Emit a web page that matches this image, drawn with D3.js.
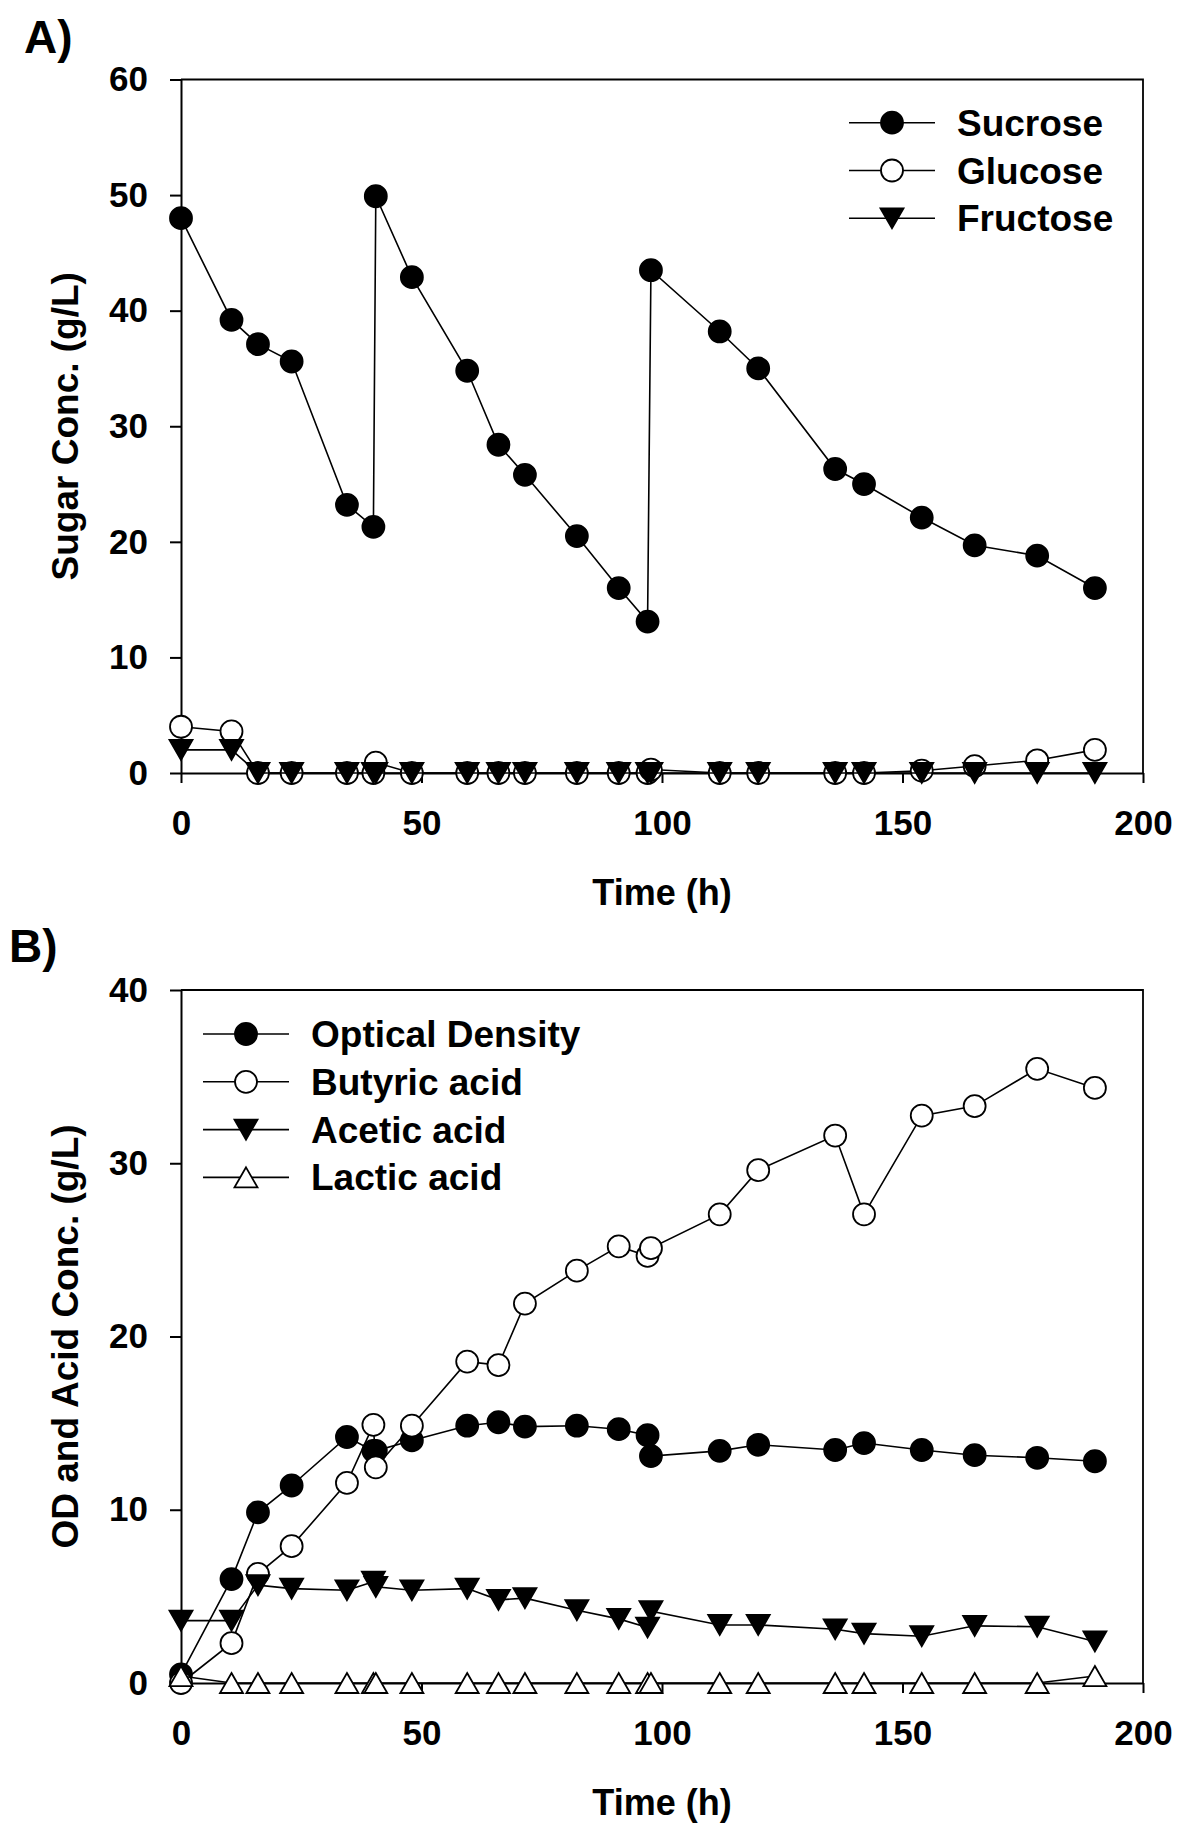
<!DOCTYPE html>
<html>
<head>
<meta charset="utf-8">
<script src="https://cdn.jsdelivr.net/npm/d3@7"></script>
<style>
  body { margin: 0; background: #fff; }
  svg text { font-family: "Liberation Sans", Arial, sans-serif; font-weight: bold; fill: #000; }
</style>
</head>
<body>
<div id="chart"></div>
<script>
// sampling times (h), shared by both panels (feeds at ~40 h and ~98 h)
var times = [0, 10.5, 16, 23, 34.5, 40, 40.5, 48, 59.5, 66, 71.5, 82.3, 91, 97, 97.7, 112, 120, 136, 142, 154, 165, 178, 190];

// panel A - sugars (g/L)
var sucrose  = [48.0, 39.2, 37.1, 35.6, 23.2, 21.3, 49.9, 42.9, 34.8, 28.4, 25.8, 20.5, 16.0, 13.1, 43.5, 38.2, 35.0, 26.3, 25.0, 22.1, 19.7, 18.8, 16.0];
var glucose  = [4.0, 3.6, 0, 0, 0, 0, 0.9, 0, 0, 0, 0, 0, 0, 0, 0.3, 0, 0, 0, 0, 0.2, 0.6, 1.1, 2.0];
var fructose = [2.0, 2.0, 0, 0, 0, 0, 0, 0, 0, 0, 0, 0, 0, 0, 0, 0, 0, 0, 0, 0, 0, 0, 0];

// panel B - OD and acids
var opticalDensity = [0.5, 6.0, 9.85, 11.4, 14.2, 13.4, 13.4, 14.0, 14.85, 15.05, 14.8, 14.85, 14.65, 14.3, 13.1, 13.4, 13.75, 13.45, 13.85, 13.45, 13.15, 13.0, 12.8];
var butyric = [0.0, 2.3, 6.3, 7.9, 11.55, 14.9, 12.45, 14.85, 18.55, 18.35, 21.9, 23.8, 25.2, 24.65, 25.1, 27.05, 29.6, 31.6, 27.05, 32.75, 33.3, 35.45, 34.35];
var acetic  = [3.6, 3.6, 5.65, 5.45, 5.35, 5.85, 5.55, 5.35, 5.45, 4.8, 4.9, 4.2, 3.7, 3.2, 4.15, 3.35, 3.35, 3.1, 2.85, 2.7, 3.3, 3.25, 2.4];
var lactic  = [0.4, 0, 0, 0, 0, 0, 0, 0, 0, 0, 0, 0, 0, 0, 0, 0, 0, 0, 0, 0, 0, 0, 0.4];

// ticks
var xTicks  = [0, 50, 100, 150, 200];
var yTicksA = [0, 10, 20, 30, 40, 50, 60];
var yTicksB = [0, 10, 20, 30, 40];

var svgWidth = 1200;
var svgHeight = 1831;
var fontFamily = '"Liberation Sans", Arial, sans-serif';

var svg = d3.select("#chart")
  .append("svg")
  .attr("width", svgWidth)
  .attr("height", svgHeight);

function symbolPath(kind) {
  if (kind === "circle") return d3.symbol().type(d3.symbolCircle).size(Math.PI * 11 * 11)();
  if (kind === "down") return "M-11.5,-10L11.5,-10L0,10Z";
  return "M0,-10L11.5,10L-11.5,10Z";
}

function drawPanel(p) {
  var x = d3.scaleLinear().domain([0, 200]).range([181, 1143]);
  var y = d3.scaleLinear().domain([0, p.yMax]).range([p.bottom, p.top]);
  var g = svg.append("g");

  // top and right frame lines
  g.append("path")
    .attr("d", `M${x(0)},${y(p.yMax)}H${x(200)}V${y(0)}`)
    .attr("fill", "none")
    .attr("stroke", "#000")
    .attr("stroke-width", 1.8);

  // axes
  var xAxis = g.append("g")
    .attr("transform", `translate(0, ${y(0)})`)
    .call(d3.axisBottom(x).tickValues(xTicks).tickSize(10).tickSizeOuter(0).tickPadding(27));
  var yAxis = g.append("g")
    .attr("transform", `translate(${x(0)}, 0)`)
    .call(d3.axisLeft(y).tickValues(p.yTicks).tickSize(11).tickSizeOuter(0).tickPadding(22));
  [xAxis, yAxis].forEach(function(a) {
    a.attr("font-size", 35).attr("font-family", fontFamily).attr("font-weight", "bold");
    a.selectAll("path, line").attr("stroke", "#000").attr("stroke-width", 2);
    a.selectAll("text").attr("fill", "#000");
  });

  // series: line then markers
  p.series.forEach(function(s) {
    var pts = times.map(function(t, i) { return [t, s.values[i]]; });
    g.append("path")
      .datum(pts)
      .attr("d", d3.line().x(d => x(d[0])).y(d => y(d[1])))
      .attr("fill", "none")
      .attr("stroke", "#000")
      .attr("stroke-width", 1.6);
    g.selectAll(null)
      .data(pts)
      .enter()
      .append("path")
      .attr("transform", d => `translate(${x(d[0])}, ${y(d[1])})`)
      .attr("d", symbolPath(s.shape))
      .attr("fill", s.filled ? "#000" : "#fff")
      .attr("stroke", "#000")
      .attr("stroke-width", 1.8);
  });

  // legend
  p.series.forEach(function(s, i) {
    var ly = p.legend.y + i * 47.8;
    g.append("line")
      .attr("x1", p.legend.x).attr("x2", p.legend.x + 86)
      .attr("y1", ly).attr("y2", ly)
      .attr("stroke", "#000").attr("stroke-width", 1.6);
    g.append("path")
      .attr("transform", `translate(${p.legend.x + 43}, ${ly})`)
      .attr("d", symbolPath(s.shape))
      .attr("fill", s.filled ? "#000" : "#fff")
      .attr("stroke", "#000")
      .attr("stroke-width", 1.8);
    g.append("text")
      .attr("x", p.legend.x + 108)
      .attr("y", ly + 13)
      .attr("font-size", 37)
      .text(s.name);
  });

  // axis titles
  g.append("text")
    .attr("x", (x(0) + x(200)) / 2)
    .attr("y", y(0) + 132)
    .attr("text-anchor", "middle")
    .attr("font-size", 36)
    .text("Time (h)");
  g.append("text")
    .attr("transform", `translate(78, ${(y(0) + y(p.yMax)) / 2}) rotate(-90)`)
    .attr("text-anchor", "middle")
    .attr("font-size", 37)
    .text(p.yTitle);

  // panel letter
  g.append("text")
    .attr("x", p.letterX)
    .attr("y", p.letterY)
    .attr("font-size", 46)
    .text(p.letter);
}

drawPanel({
  top: 79.5, bottom: 773, yMax: 60, yTicks: yTicksA,
  yTitle: "Sugar Conc. (g/L)",
  letter: "A)", letterX: 24, letterY: 53,
  legend: { x: 849, y: 122.7 },
  series: [
    { name: "Sucrose",  values: sucrose,  shape: "circle", filled: true },
    { name: "Glucose",  values: glucose,  shape: "circle", filled: false },
    { name: "Fructose", values: fructose, shape: "down",   filled: true }
  ]
});

drawPanel({
  top: 990, bottom: 1683, yMax: 40, yTicks: yTicksB,
  yTitle: "OD and Acid Conc. (g/L)",
  letter: "B)", letterX: 9, letterY: 962,
  legend: { x: 203, y: 1034 },
  series: [
    { name: "Optical Density", values: opticalDensity, shape: "circle", filled: true },
    { name: "Butyric acid",    values: butyric,        shape: "circle", filled: false },
    { name: "Acetic acid",     values: acetic,         shape: "down",   filled: true },
    { name: "Lactic acid",     values: lactic,         shape: "up",     filled: false }
  ]
});
</script>
</body>
</html>
